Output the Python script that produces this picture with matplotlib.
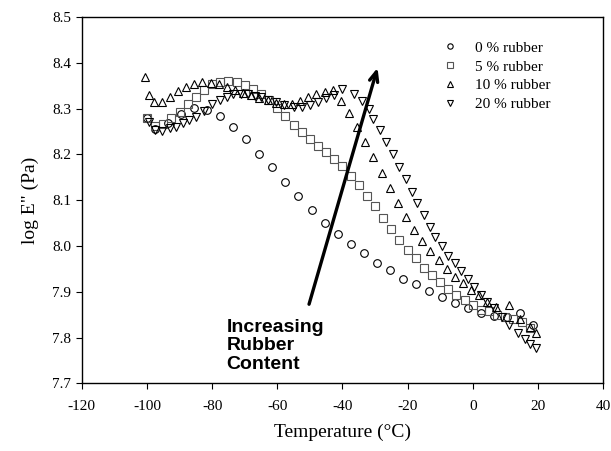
import numpy as np
import matplotlib
matplotlib.use("Agg")
import matplotlib.pyplot as plt

plt.rcParams['font.family'] = ['Liberation Serif', 'DejaVu Serif']
plt.rcParams['axes.unicode_minus'] = False

# 0 % rubber
t0 = [-100, -97.5, -93.5, -89.5, -85.5, -81.5, -77.5, -73.5, -69.5, -65.5, -61.5,
      -57.5, -53.5, -49.5, -45.5, -41.5, -37.5, -33.5, -29.5, -25.5, -21.5, -17.5,
      -13.5, -9.5, -5.5, -1.5, 2.5, 6.5, 10.5, 14.5, 18.5]
e0 = [8.279, 8.255, 8.268, 8.288, 8.301, 8.297, 8.284, 8.260, 8.233, 8.202, 8.172,
      8.139, 8.109, 8.079, 8.050, 8.026, 8.004, 7.984, 7.964, 7.948, 7.929, 7.916,
      7.902, 7.888, 7.876, 7.865, 7.854, 7.847, 7.846, 7.853, 7.828]

# 5 % rubber
t5 = [-100, -97.5, -95, -92.5, -90, -87.5, -85, -82.5, -80, -77.5, -75, -72.5,
      -70, -67.5, -65, -62.5, -60, -57.5, -55, -52.5, -50, -47.5, -45, -42.5,
      -40, -37.5, -35, -32.5, -30, -27.5, -25, -22.5, -20, -17.5, -15, -12.5,
      -10, -7.5, -5, -2.5, 0, 2.5, 5, 7.5, 10, 12.5, 15, 17.5]
e5 = [8.280, 8.262, 8.266, 8.279, 8.293, 8.310, 8.326, 8.341, 8.353, 8.359, 8.360, 8.358,
      8.352, 8.343, 8.332, 8.320, 8.301, 8.283, 8.264, 8.248, 8.234, 8.219, 8.206, 8.190,
      8.174, 8.154, 8.133, 8.110, 8.087, 8.062, 8.037, 8.013, 7.991, 7.974, 7.952, 7.937,
      7.922, 7.907, 7.892, 7.882, 7.871, 7.860, 7.857, 7.849, 7.845, 7.840, 7.835, 7.820]

# 10 % rubber
t10 = [-100.5, -99.5, -98, -95.5, -93, -90.5, -88, -85.5, -83, -80.5, -78, -75.5,
       -73, -70.5, -68, -65.5, -63, -60.5, -58, -55.5, -53, -50.5, -48, -45.5,
       -43, -40.5, -38, -35.5, -33, -30.5, -28, -25.5, -23, -20.5, -18, -15.5,
       -13, -10.5, -8, -5.5, -3, -0.5, 2, 4.5, 7, 11, 14.5, 17.5, 19.5]
e10 = [8.370, 8.330, 8.315, 8.315, 8.325, 8.339, 8.347, 8.354, 8.358, 8.357, 8.354, 8.347,
       8.340, 8.335, 8.330, 8.324, 8.318, 8.313, 8.311, 8.310, 8.316, 8.326, 8.333, 8.336,
       8.340, 8.317, 8.291, 8.260, 8.228, 8.195, 8.159, 8.126, 8.093, 8.064, 8.035, 8.011,
       7.989, 7.969, 7.949, 7.933, 7.919, 7.905, 7.893, 7.878, 7.867, 7.871, 7.840, 7.824, 7.809]

# 20 % rubber
t20 = [-99.5, -97.5, -95.5, -93, -91, -89, -87, -85, -82.5, -80, -77.5, -75.5,
       -73.5, -71, -69, -67, -65, -63, -60.5, -58, -55, -52.5, -50, -47.5,
       -45, -42.5, -40, -36.5, -34, -32, -30.5, -28.5, -26.5, -24.5, -22.5, -20.5,
       -18.5, -17, -15, -13, -11.5, -9.5, -7.5, -5.5, -3.5, -1.5, 0.5, 2.5,
       4.5, 6.5, 9, 11, 14, 16, 17.5, 19.5]
e20 = [8.271, 8.253, 8.252, 8.257, 8.261, 8.268, 8.275, 8.282, 8.295, 8.310, 8.319, 8.326,
       8.333, 8.333, 8.332, 8.328, 8.325, 8.319, 8.315, 8.308, 8.304, 8.304, 8.308, 8.315,
       8.323, 8.330, 8.342, 8.333, 8.317, 8.299, 8.278, 8.254, 8.228, 8.201, 8.173, 8.146,
       8.119, 8.093, 8.068, 8.042, 8.019, 7.999, 7.978, 7.962, 7.946, 7.927, 7.910, 7.893,
       7.878, 7.864, 7.846, 7.828, 7.809, 7.796, 7.787, 7.777]

labels = ['0 % rubber', '5 % rubber', '10 % rubber', '20 % rubber']

fig = plt.figure(figsize=(6.11, 4.51), dpi=100)
ax = fig.add_axes([0.134, 0.150, 0.853, 0.812])

style = dict(linestyle='none', markerfacecolor='none', markersize=5.5,
             markeredgewidth=0.8)
ax.plot(t0, e0, marker='o', color='black', label=labels[0], **style)
ax.plot(t5, e5, marker='s', color='#555555', label=labels[1], **style)
ax.plot(t10, e10, marker='^', color='black', label=labels[2], **style)
ax.plot(t20, e20, marker='v', color='black', label=labels[3], **style)

ax.set_xlim(-120, 40)
ax.set_ylim(7.7, 8.5)
ax.set_xticks(np.arange(-120, 41, 20))
ax.set_yticks(np.arange(7.7, 8.51, 0.1))
ax.set_yticklabels(['%.1f' % v for v in np.arange(7.7, 8.51, 0.1)])
ax.tick_params(direction='out', length=4, width=0.8, labelsize=11)
ax.tick_params(axis='x', pad=8)
for s in ax.spines.values():
    s.set_linewidth(1.0)

ax.set_xlabel('Temperature (°C)', fontsize=14, labelpad=8)
ax.set_ylabel('log E" (Pa)', fontsize=14, labelpad=10)

# arrow showing the trend with rubber content
ax.annotate('', xy=(-29, 8.395), xytext=(-50.5, 7.867),
            arrowprops=dict(arrowstyle='->,head_length=0.7,head_width=0.3',
                            lw=2.4, color='black'))
ax.text(-75.6, 7.782, 'Increasing\nRubber\nContent', family='Liberation Sans',
        fontweight='bold', fontsize=14, ha='left', va='center', linespacing=1.12)

leg = ax.legend(loc='upper left', bbox_to_anchor=(0.66, 0.972), frameon=False,
                fontsize=11, handletextpad=0.9, labelspacing=0.33,
                markerscale=0.7, handlelength=1.4)

fig.savefig('out.png', dpi=100)
